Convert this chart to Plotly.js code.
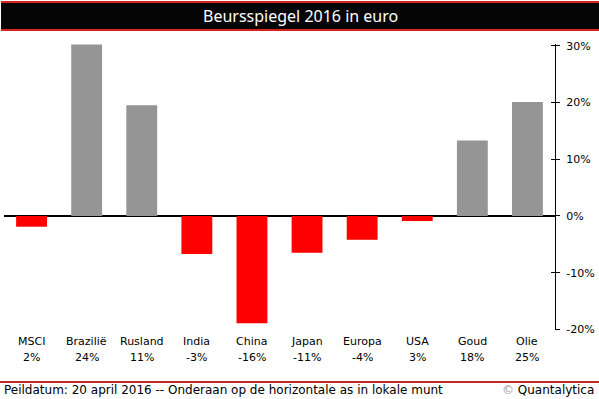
<!DOCTYPE html>
<html>
<head>
<meta charset="utf-8">
<script src="https://cdn.plot.ly/plotly-3.0.1.min.js"></script>
<style>html,body{margin:0;padding:0;background:#fff;}#chart{width:599px;height:399px;}</style>
</head>
<body>
<div id="chart"></div>
<script>
const categories = ['MSCI','Brazilië','Rusland','India','China','Japan','Europa','USA','Goud','Olie'];
const euroReturns = [-1.9, 30.2, 19.5, -6.7, -18.9, -6.5, -4.2, -0.9, 13.3, 20.1];
const localLabels = ['2%','24%','11%','-3%','-16%','-11%','-4%','3%','18%','25%'];
const yTicks = [-20, -10, 0, 10, 20, 30];
const yTickText = ['-20%', '-10%', '0%', '10%', '20%', '30%'];
const titleText = 'Beursspiegel 2016 in euro';
const footerText = 'Peildatum: 20 april 2016 -- Onderaan op de horizontale as in lokale munt';
const creditText = 'Quantalytica';

const W = 599, H = 399, L = 4, R = 44, T = 44, B = 69;
const pw = W - L - R, ph = H - T - B;
const px = p => (p - L) / pw;
const py = q => (H - B - q) / ph;

const font = 'DejaVu Sans, Verdana, sans-serif';
const barColors = euroReturns.map(v => v < 0 ? '#ff0000' : '#959595');

const annotations = [];
categories.forEach((c, i) => {
  annotations.push({x: c, xref: 'x', y: py(341), yref: 'paper', text: c, showarrow: false,
    xanchor: 'center', yanchor: 'middle', font: {family: font, size: 11, color: '#000'}});
  annotations.push({x: c, xref: 'x', y: py(357), yref: 'paper', text: localLabels[i], showarrow: false,
    xanchor: 'center', yanchor: 'middle', font: {family: font, size: 11, color: '#000'}});
});
annotations.push({x: px(300), xref: 'paper', y: py(16), yref: 'paper', text: titleText, showarrow: false,
  xanchor: 'center', yanchor: 'middle', font: {family: 'Noto Sans, Lato, sans-serif', size: 16, color: '#fff'}});
annotations.push({x: px(2), xref: 'paper', y: py(390), yref: 'paper', text: footerText, showarrow: false,
  xanchor: 'left', yanchor: 'middle', font: {family: font, size: 12, color: '#000'}});
annotations.push({x: px(596), xref: 'paper', y: py(390), yref: 'paper',
  text: '<span style="color:#999">©</span> ' + creditText, showarrow: false,
  xanchor: 'right', yanchor: 'middle', font: {family: font, size: 12, color: '#000'}});

const shapes = [
  {type: 'rect', xref: 'paper', yref: 'paper', x0: px(1), x1: px(599), y0: py(31), y1: py(1), fillcolor: '#d9211c', line: {width: 0}, layer: 'below'},
  {type: 'rect', xref: 'paper', yref: 'paper', x0: px(1), x1: px(599), y0: py(29), y1: py(3), fillcolor: '#050505', line: {width: 0}, layer: 'below'},
  {type: 'rect', xref: 'paper', yref: 'paper', x0: px(0), x1: px(599), y0: py(383), y1: py(381), fillcolor: '#c0282d', line: {width: 0}, layer: 'below'}
];

const yRange = [-20.1, 30.3];
const data = [{
  type: 'bar', x: categories, y: euroReturns,
  marker: {color: barColors, line: {width: 0}},
  hoverinfo: 'none'
}, {type: 'scatter', x: [categories[0]], y: [0], yaxis: 'y2', mode: 'none', hoverinfo: 'none'}];

const layout = {
  width: W, height: H,
  margin: {l: L, r: R, t: T, b: B, pad: 0},
  paper_bgcolor: '#fff', plot_bgcolor: '#fff',
  showlegend: false,
  bargap: 0.44,
  xaxis: {type: 'category', showticklabels: false, ticks: '', showgrid: false, zeroline: false, showline: false, fixedrange: true},
  yaxis: {side: 'right', range: yRange, tickmode: 'array', tickvals: yTicks, ticktext: yTickText, ticks: 'outside', ticklen: 4, tickcolor: '#000', tickwidth: 1,
    showline: true, linecolor: '#000', linewidth: 1, showgrid: false, zeroline: true, zerolinecolor: '#000', zerolinewidth: 1.5,
    tickfont: {family: font, size: 11, color: '#000'}, ticklabelstandoff: 4, fixedrange: true},
  yaxis2: {overlaying: 'y', side: 'right', range: yRange, tickmode: 'array', tickvals: yTicks, ticks: 'inside', ticklen: 4, tickcolor: '#000', tickwidth: 1,
    showticklabels: false, showline: false, showgrid: false, zeroline: false, fixedrange: true},
  annotations: annotations,
  shapes: shapes
};

Plotly.newPlot('chart', data, layout, {staticPlot: true, displayModeBar: false});
</script>
</body>
</html>
